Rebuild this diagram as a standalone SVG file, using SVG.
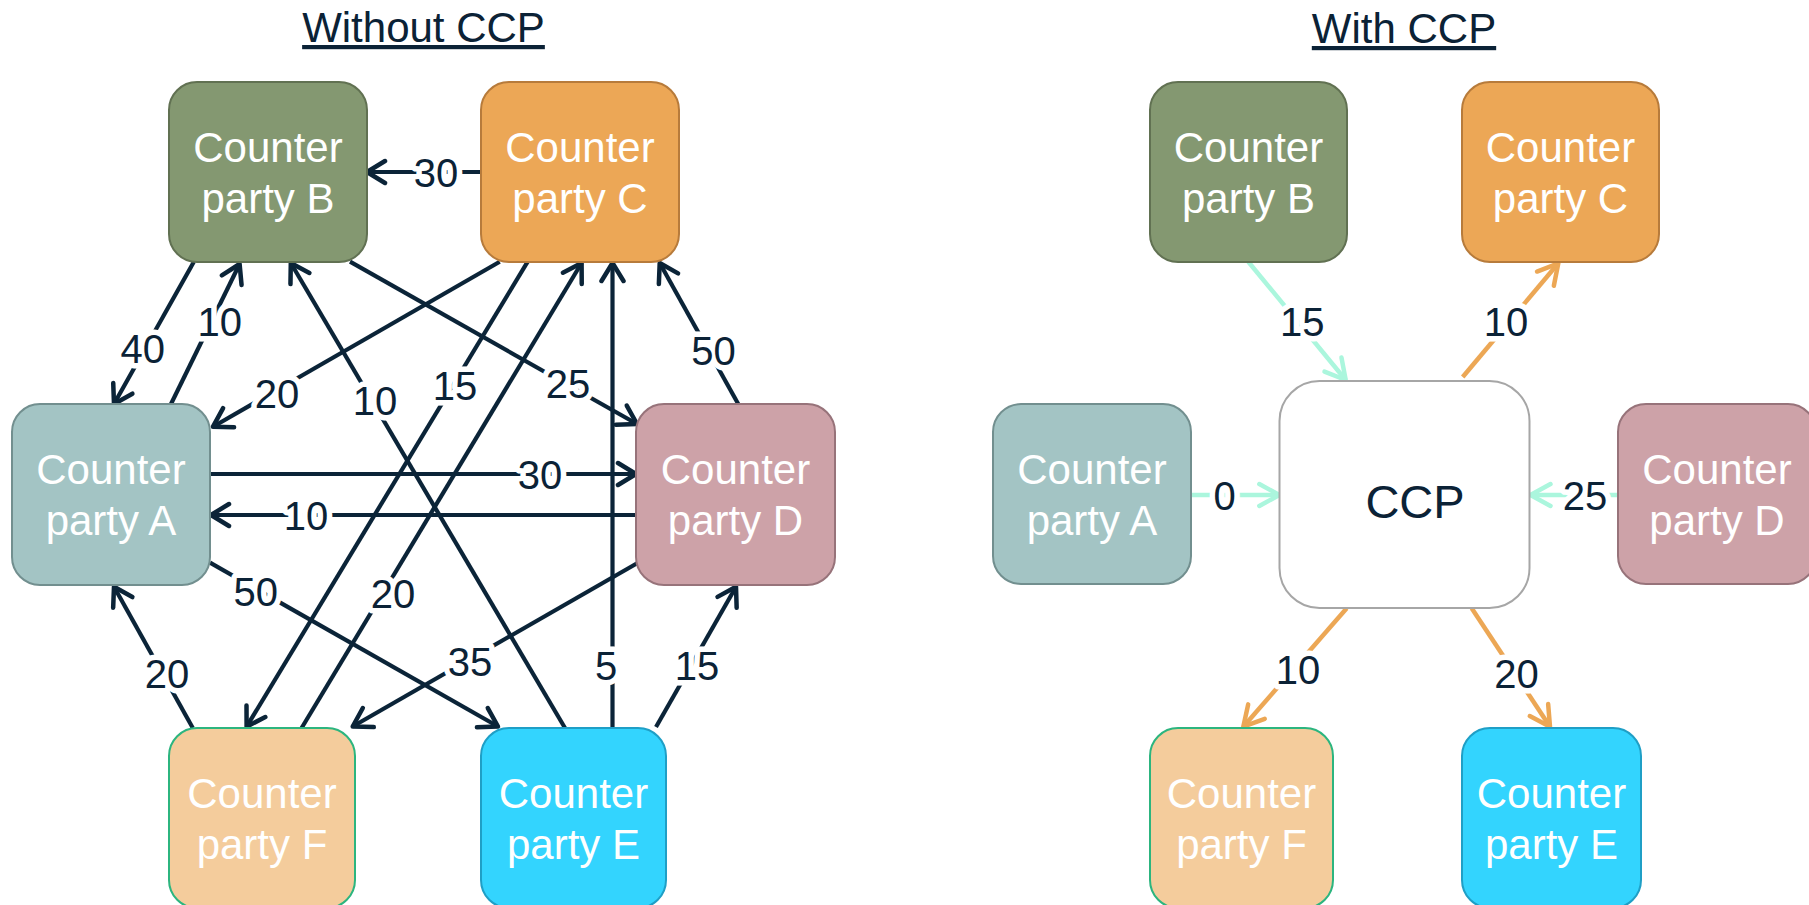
<svg xmlns="http://www.w3.org/2000/svg" width="1809" height="905" viewBox="0 0 1809 905">
<style>
.title{font-family:"Liberation Sans",Arial,sans-serif;font-size:42px;fill:#0b2236;text-anchor:middle;text-decoration:underline}
.nt{font-family:"Liberation Sans",Arial,sans-serif;font-size:42px;fill:#ffffff;text-anchor:middle}
.lb{font-family:"Liberation Sans",Arial,sans-serif;font-size:40px;fill:#0b2236;text-anchor:middle;paint-order:stroke;stroke:#ffffff;stroke-width:11px;stroke-linejoin:round}
.ln{stroke:#0b2438;stroke-width:4.2;fill:none;marker-end:url(#ah)}
.lnn{stroke:#0b2438;stroke-width:4.2;fill:none}
.mint{stroke:#abf6dd;stroke-width:4.5;fill:none}
.org{stroke:#eca755;stroke-width:4.5;fill:none}
.box{stroke-width:2}
</style>
<defs>
<marker id="ah" viewBox="-24 -14 28 28" markerWidth="28" markerHeight="28" refX="0" refY="0" orient="auto" markerUnits="userSpaceOnUse">
<path d="M-18,-11 L0,0 L-18,11" fill="none" stroke="#0b2438" stroke-width="4.5" stroke-linecap="round" stroke-linejoin="round"/>
</marker>
<marker id="am" viewBox="-24 -14 28 28" markerWidth="28" markerHeight="28" refX="0" refY="0" orient="auto" markerUnits="userSpaceOnUse">
<path d="M-20,-11 L0,0 L-20,11" fill="none" stroke="#abf6dd" stroke-width="4.5" stroke-linecap="round" stroke-linejoin="round"/>
</marker>
<marker id="ao" viewBox="-24 -14 28 28" markerWidth="28" markerHeight="28" refX="0" refY="0" orient="auto" markerUnits="userSpaceOnUse">
<path d="M-20,-11 L0,0 L-20,11" fill="none" stroke="#eca755" stroke-width="4.5" stroke-linecap="round" stroke-linejoin="round"/>
</marker>
</defs>
<rect x="0" y="0" width="1809" height="905" fill="#ffffff"/>

<text class="title" x="423.5" y="42">Without CCP</text>
<text class="title" x="1404" y="43">With CCP</text>

<g id="connectors">
  <!-- left panel -->
  <line class="ln" x1="481" y1="172" x2="367" y2="172"/>
  <line class="ln" x1="193.9" y1="261.7" x2="114" y2="404"/>
  <line class="ln" x1="171" y1="404" x2="239.6" y2="264"/>
  <line class="ln" x1="499.7" y1="261.7" x2="213" y2="426.7"/>
  <line class="ln" x1="565" y1="728" x2="290.8" y2="263"/>
  <line class="ln" x1="350" y1="261.7" x2="637" y2="424"/>
  <line class="ln" x1="527.7" y1="261.7" x2="246.6" y2="726.7"/>
  <line class="ln" x1="301.6" y1="728" x2="581.6" y2="263"/>
  <line class="ln" x1="612.5" y1="728" x2="612.5" y2="263"/>
  <line class="ln" x1="738.8" y1="405" x2="659.7" y2="263"/>
  <line class="ln" x1="210" y1="474" x2="636" y2="474"/>
  <line class="ln" x1="636" y1="515" x2="211" y2="515"/>
  <line class="ln" x1="210" y1="562.7" x2="498" y2="726.5"/>
  <line class="ln" x1="192.8" y1="728" x2="114" y2="586.7"/>
  <line class="ln" x1="638" y1="562.7" x2="352.7" y2="726.5"/>
  <line class="ln" x1="656" y1="727" x2="736" y2="586.7"/>

  <text class="lb" x="436" y="186.5">30</text>
  <text class="lb" x="142.7" y="362.5">40</text>
  <text class="lb" x="219.7" y="336">10</text>
  <text class="lb" x="277" y="407.5">20</text>
  <text class="lb" x="375" y="414.5">10</text>
  <text class="lb" x="568" y="397.5">25</text>
  <text class="lb" x="455" y="399.5">15</text>
  <text class="lb" x="393" y="607.5">20</text>
  <text class="lb" x="606" y="679.5">5</text>
  <text class="lb" x="713.5" y="364.5">50</text>
  <text class="lb" x="540" y="488.5">30</text>
  <text class="lb" x="306" y="529.5">10</text>
  <text class="lb" x="255.8" y="606">50</text>
  <text class="lb" x="167" y="687.5">20</text>
  <text class="lb" x="470" y="676">35</text>
  <text class="lb" x="697" y="679.5">15</text>

  <!-- right panel -->
  <line class="mint" marker-end="url(#am)" x1="1248.3" y1="261.7" x2="1345.7" y2="380"/>
  <line class="org" marker-end="url(#ao)" x1="1462.7" y1="377" x2="1558.3" y2="263.3"/>
  <line class="mint" marker-end="url(#am)" x1="1191.7" y1="495" x2="1279.3" y2="495"/>
  <line class="mint" marker-end="url(#am)" x1="1617.3" y1="495" x2="1530.5" y2="495"/>
  <line class="org" marker-end="url(#ao)" x1="1346.7" y1="608.3" x2="1243.3" y2="726.7"/>
  <line class="org" marker-end="url(#ao)" x1="1471.7" y1="608.3" x2="1550" y2="726.7"/>

  <text class="lb" x="1302.3" y="336">15</text>
  <text class="lb" x="1506" y="336">10</text>
  <text class="lb" x="1224.5" y="509.5">0</text>
  <text class="lb" x="1585" y="509.5">25</text>
  <text class="lb" x="1298" y="683.5">10</text>
  <text class="lb" x="1516.5" y="687.5">20</text>
</g>

<!-- left panel nodes -->
<g id="L-B">
  <rect class="box" x="169" y="82" width="198" height="180" rx="28" fill="#849871" stroke="#617152"/>
  <text class="nt" x="268" y="162">Counter</text><text class="nt" x="268" y="213">party B</text>
</g>
<g id="L-C">
  <rect class="box" x="481" y="82" width="198" height="180" rx="28" fill="#eca756" stroke="#b77b3b"/>
  <text class="nt" x="580" y="162">Counter</text><text class="nt" x="580" y="213">party C</text>
</g>
<g id="L-A">
  <rect class="box" x="12" y="404" width="198" height="181" rx="28" fill="#a3c4c4" stroke="#728f8f"/>
  <text class="nt" x="111" y="484">Counter</text><text class="nt" x="111" y="535">party A</text>
</g>
<g id="L-D">
  <rect class="box" x="636" y="404" width="199" height="181" rx="28" fill="#cda2a8" stroke="#97737a"/>
  <text class="nt" x="735.5" y="484">Counter</text><text class="nt" x="735.5" y="535">party D</text>
</g>
<g id="L-F">
  <rect class="box" x="169" y="728" width="186" height="180" rx="28" fill="#f4cc9c" stroke="#2cb57f"/>
  <text class="nt" x="262" y="808">Counter</text><text class="nt" x="262" y="859">party F</text>
</g>
<g id="L-E">
  <rect class="box" x="481" y="728" width="185" height="180" rx="28" fill="#33d4fe" stroke="#1f9fc6"/>
  <text class="nt" x="573.5" y="808">Counter</text><text class="nt" x="573.5" y="859">party E</text>
</g>

<!-- right panel nodes -->
<g id="R-B">
  <rect class="box" x="1150" y="82" width="197" height="180" rx="28" fill="#849871" stroke="#617152"/>
  <text class="nt" x="1248.5" y="162">Counter</text><text class="nt" x="1248.5" y="213">party B</text>
</g>
<g id="R-C">
  <rect class="box" x="1462" y="82" width="197" height="180" rx="28" fill="#eca756" stroke="#b77b3b"/>
  <text class="nt" x="1560.5" y="162">Counter</text><text class="nt" x="1560.5" y="213">party C</text>
</g>
<g id="R-A">
  <rect class="box" x="993" y="404" width="198" height="180" rx="28" fill="#a3c4c4" stroke="#728f8f"/>
  <text class="nt" x="1092" y="484">Counter</text><text class="nt" x="1092" y="535">party A</text>
</g>
<g id="R-D">
  <rect class="box" x="1618" y="404" width="198" height="180" rx="28" fill="#cda2a8" stroke="#97737a"/>
  <text class="nt" x="1717" y="484">Counter</text><text class="nt" x="1717" y="535">party D</text>
</g>
<g id="R-CCP">
  <rect class="box" x="1279.5" y="381" width="250" height="227" rx="40" fill="#ffffff" stroke="#a6a6a6"/>
  <text x="1415" y="518" font-family="'Liberation Sans',Arial,sans-serif" font-size="47" fill="#0b2236" text-anchor="middle">CCP</text>
</g>
<g id="R-F">
  <rect class="box" x="1150" y="728" width="183" height="180" rx="28" fill="#f4cc9c" stroke="#2cb57f"/>
  <text class="nt" x="1241.5" y="808">Counter</text><text class="nt" x="1241.5" y="859">party F</text>
</g>
<g id="R-E">
  <rect class="box" x="1462" y="728" width="179" height="180" rx="28" fill="#33d4fe" stroke="#1f9fc6"/>
  <text class="nt" x="1551.5" y="808">Counter</text><text class="nt" x="1551.5" y="859">party E</text>
</g>
</svg>
